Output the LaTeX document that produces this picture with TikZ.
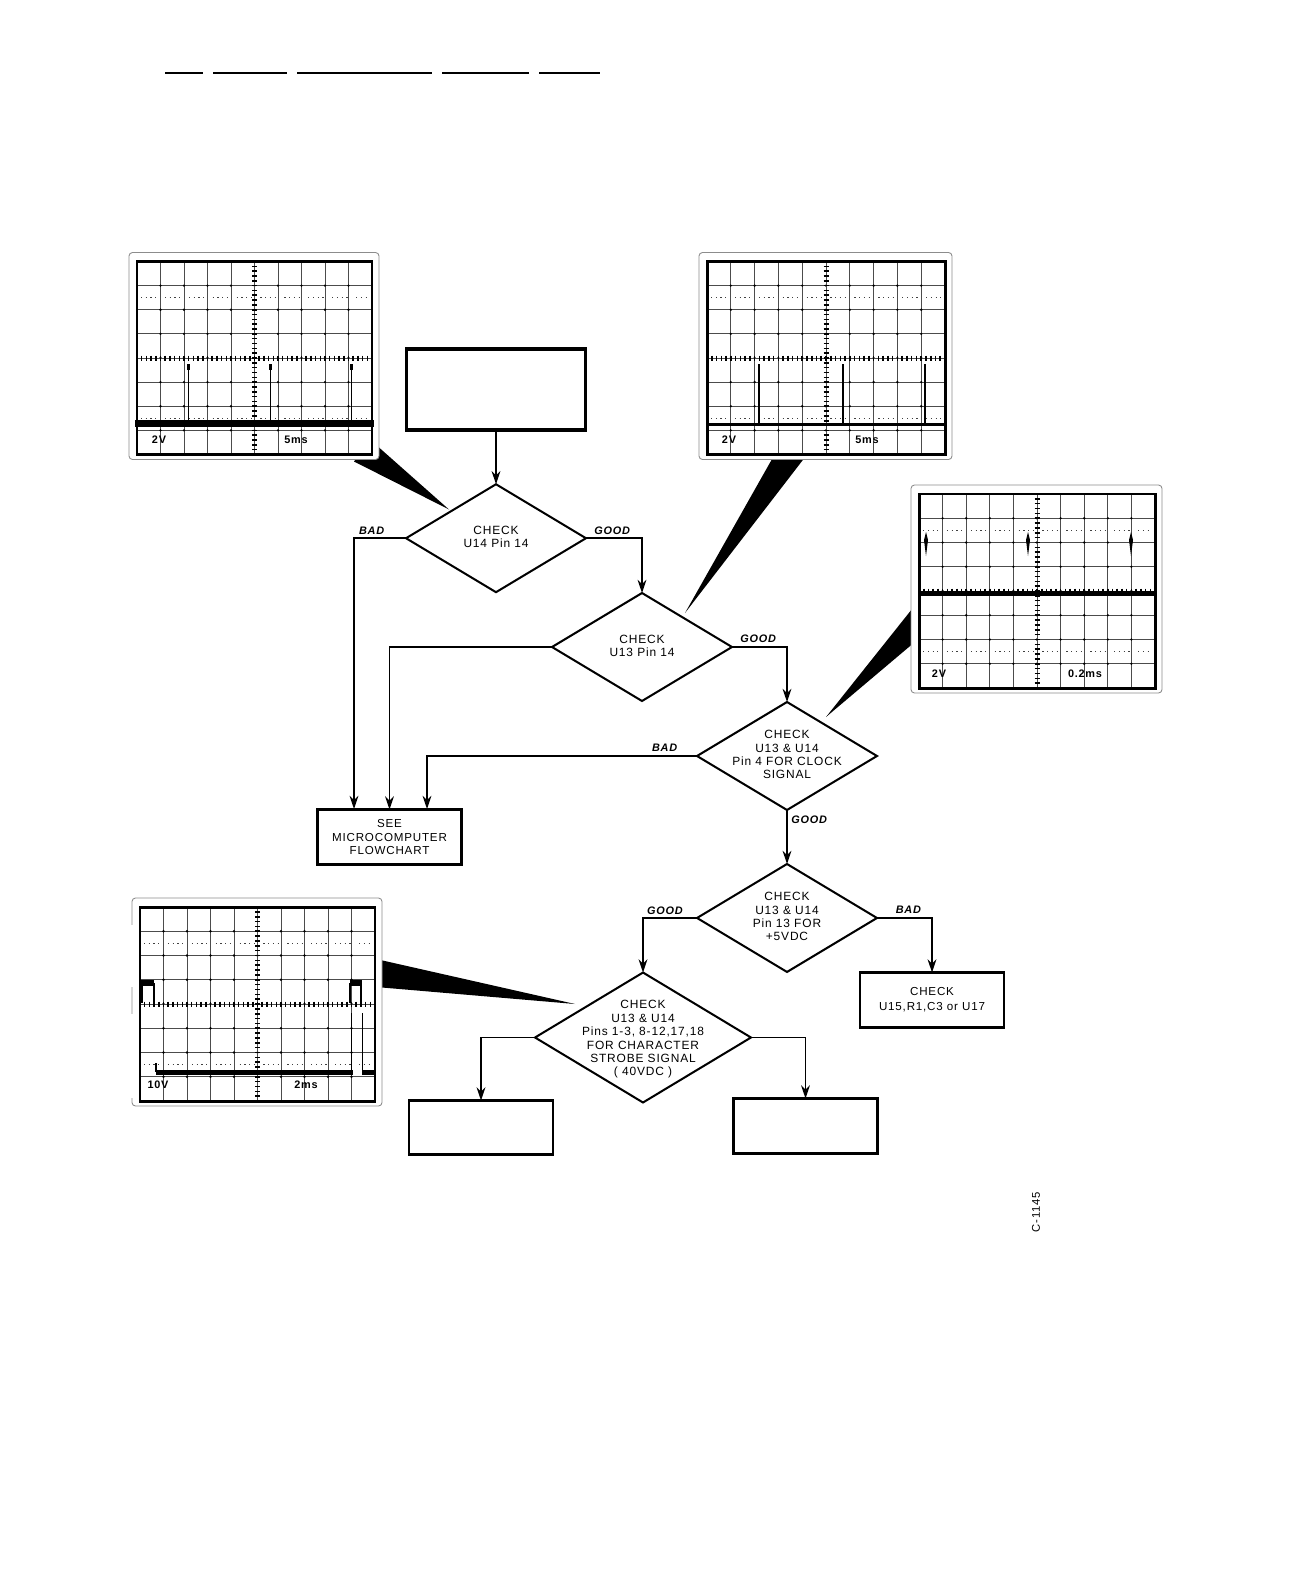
\documentclass[tikz,border=0pt]{standalone}
\usepackage{fontspec}
\setmainfont{Liberation Sans}[LetterSpace=7.0]
\usetikzlibrary{arrows.meta,calc,positioning,shapes.geometric}
\newcommand{\chktext}[1]{\makebox[0pt]{\smash{\raisebox{-1.8pt}{\begin{tabular}[c]{@{}c@{}}#1\end{tabular}}}}}
% screen of one scope photo: name, left, top, right, bottom
\newcommand{\scopeshot}[5]{%
    \pgfmathsetmacro{\colw}{(#4-#2)/10}
    \pgfmathsetmacro{\rowh}{(#5-#3)/8}
    \pgfmathsetmacro{\midx}{(#2+#4)/2}
    \pgfmathsetmacro{\midy}{(#3+#5)/2}
    \node[scopecard, minimum width={(#4-#2+15)*0.02cm}, minimum height={(#5-#3+14)*0.02cm}] (#1card) at (#2-8,#3-9) {};
    \foreach \i in {1,...,9} \draw[gridline] ({#2+\i*\colw},#3) -- ({#2+\i*\colw},#5);
    \foreach \j in {1,...,7} \draw[gridline] (#2,{#3+\j*\rowh}) -- (#4,{#3+\j*\rowh});
    \foreach \i in {1,...,9} \foreach \j in {1,...,7} \fill ({#2+\i*\colw},{#3+\j*\rowh}) circle (1.3);
    \draw[gridline] (#2,\midy) -- (#4,\midy);
    \draw[gridline] (\midx,#3) -- (\midx,#5);
    \foreach \k in {1,...,39} \draw[axistick] (\midx-2.5,{#3+\k*\rowh/5}) -- (\midx+2.5,{#3+\k*\rowh/5});
    \foreach \k in {1,...,49} \draw[axistick] ({#2+\k*\colw/5},\midy-2.5) -- ({#2+\k*\colw/5},\midy+2.5);
    \draw[graticule] (#2+4,{#3+1.5*\rowh}) -- (#4-4,{#3+1.5*\rowh});
    \draw[graticule] (#2+4,{#3+6.5*\rowh}) -- (#4-4,{#3+6.5*\rowh});
    \node[scopescreen, minimum width={(#4-#2)*0.02cm}, minimum height={(#5-#3)*0.02cm}] (#1) at (#2,#3) {};
}

\begin{document}
\begin{tikzpicture}[x=0.02cm, y=-0.02cm, >={Stealth[length=7.5pt,width=5pt]},
    flow/.style={->, line width=0.85pt},
    chk/.style={diamond, draw, line width=1.15pt, aspect=1.667, inner sep=0pt, outer sep=0pt, minimum width=3.6cm, minimum height=2.16cm, font=\fontsize{6.8}{7.6}\selectfont},
    stepbox/.style={draw, line width=1.4pt, inner sep=0pt, outer sep=0pt, minimum width=2.88cm, minimum height=1.1cm, align=center, font=\fontsize{6.6}{7.5}\selectfont},
    flag/.style={inner sep=0pt, font=\fontsize{6.2}{7}\selectfont\bfseries\itshape},
    scopecard/.style={draw=black!45, fill=white, line width=0.5pt, rounded corners=2pt, anchor=north west, inner sep=0pt, outer sep=0pt},
    scopescreen/.style={draw, line width=1.7pt, anchor=north west, inner sep=0pt, outer sep=0pt},
    gridline/.style={black!70, line width=0.45pt},
    axistick/.style={line width=0.9pt},
    graticule/.style={black!75, line width=0.6pt, dash pattern=on 0.7pt off 2pt on 0.7pt off 2pt on 0.7pt off 2pt on 0.7pt off 4.8pt},
    spike/.style={line width=1.1pt},
    scopelabel/.style={inner sep=0pt, font=\fontsize{6.2}{7}\selectfont\bfseries},
    tail/.style={fill=black}]
    \useasboundingbox (0,0) rectangle (1292,1571);

    % Heading rule
    \foreach \a/\b in {165/203, 213/287, 297/432, 442/529, 539/600} \draw[line width=1.4pt] (\a,73) -- (\b,73);

    % Nodes
    \node[stepbox, line width=2pt, minimum width=3.58cm, minimum height=1.63cm] (startbox) at (496,389.5) {};
    \node[chk, below=1.08cm of startbox] (pin14u14) {\chktext{CHECK\\U14 Pin 14}};
    \node[chk] (pin14u13) at (642,647) {\chktext{CHECK\\U13 Pin 14}};
    \node[chk] (clockchk) at (787,756) {\chktext{CHECK\\U13 \& U14\\Pin 4 FOR CLOCK\\SIGNAL}};
    \node[chk, below=1.08cm of clockchk] (pin13chk) {\chktext{CHECK\\U13 \& U14\\Pin 13 FOR\\+5VDC}};
    \node[chk, minimum width=4.32cm, minimum height=2.6cm] (strobechk) at (643,1037.5) {\raisebox{-2.4pt}{\chktext{CHECK\\U13 \& U14\\Pins 1-3, 8-12,17,18\\FOR CHARACTER\\STROBE SIGNAL\\( 40VDC )}}};
    \node[stepbox] (seebox) at (389.5,837) {SEE\\MICROCOMPUTER\\FLOWCHART};
    \node[stepbox] (u15box) at (932,1000) {CHECK\\[1pt]U15,R1,C3 or U17};
    \node[stepbox, minimum height=1.08cm] (leftbox) at (481,1127.5) {};
    \node[stepbox, minimum height=1.1cm] (rightbox) at (805.5,1126) {};
    \coordinate (seeA) at (354,809);
    \coordinate (seeC) at (427,809);

    % Pointers
    \coordinate (tipA) at (449,509.5);
    \coordinate (tipB) at (685,613);
    \coordinate (tipC) at (826,717);
    \coordinate (tipD) at (575,1004);
    \fill[tail] (370,441) -- (379,447.5) -- (tipA) -- (354,461.5) -- cycle;
    \fill[tail] (776,452) -- (809,452) -- (tipB) -- cycle;
    \fill[tail] (916,604) -- (tipC) -- (916,641) -- cycle;
    \fill[tail] (376,959) -- (tipD) -- (376,987) -- cycle;

    % Scope photos
    \scopeshot{scopeA}{137}{261.5}{372}{454.5}
    \draw[line width=4pt] (135,423.5) -- (374,423.5);
    \foreach \s in {188.5,270.5,351.5} {
        \draw[spike] (\s,364) -- (\s,423.5);
        \draw[spike, line width=1.8pt] (\s,364) -- (\s,370);
    }
    \node[scopelabel] (voltA) at (159,439.5) {2V};
    \node[scopelabel] (timeA) at (296,439.5) {5ms};

    \scopeshot{scopeB}{707}{261.5}{945}{454.5}
    \draw[line width=2.2pt] (707,424.5) -- (945,424.5);
    \foreach \s in {759,843,925} {
        \draw[spike] (\s,364) -- (\s,424.5);
        \draw[spike, line width=1.6pt] (\s,364) -- (\s,370);
    }
    \node[scopelabel] (voltB) at (729,439.5) {2V};
    \node[scopelabel] (timeB) at (867,439.5) {5ms};

    \scopeshot{scopeC}{919}{494}{1155}{688}
    \draw[line width=2.4pt] (919,593.5) -- (1155,593.5);
    \foreach \s in {926,1028,1131} \fill (\s,532) -- (\s+2,540) -- (\s,556) -- (\s-2,540) -- cycle;
    \node[scopelabel] (voltC) at (939,673.5) {2V};
    \node[scopelabel] (timeC) at (1085,673.5) {0.2ms};

    \scopeshot{scopeD}{140}{907}{375}{1101}
    \draw[white, line width=1.2pt] (132,925) -- (132,987);
    \draw[white, line width=1.2pt] (132,1014) -- (132,1098);
    \draw[line width=2.6pt] (156,1072.5) -- (353,1072.5);
    \draw[line width=2.6pt] (362,1072.5) -- (375,1072.5);
    \draw[line width=3.6pt] (140,983) -- (154,983);
    \draw[line width=3.6pt] (350,983) -- (362,983);
    \draw[spike, line width=0.6pt] (142,983) -- (142,1003);
    \draw[spike, line width=0.6pt] (154,983) -- (154,1003);
    \draw[spike, line width=0.6pt] (350,983) -- (350,1003);
    \draw[spike, line width=0.6pt] (361,983) -- (361,1003);
    \draw[spike, line width=0.6pt] (156,1063) -- (156,1072);
    \draw[spike, line width=0.3pt] (351,1013) -- (351,1072);
    \draw[spike, line width=0.3pt] (362,1013) -- (362,1072);
    \node[scopelabel] (voltD) at (158,1084.5) {10V};
    \node[scopelabel] (timeD) at (306,1084.5) {2ms};

    % Arrows
    \draw[flow] (startbox) -- (pin14u14);
    \draw[flow] (pin14u14.west) -| (seeA);
    \draw[flow] (pin14u14.east) -| (pin14u13.north);
    \draw[flow] (pin14u13.west) -| (seebox.north);
    \draw[flow] (pin14u13.east) -| (clockchk.north);
    \draw[flow] (clockchk.west) -| (seeC);
    \draw[flow] (clockchk) -- (pin13chk);
    \draw[flow] (pin13chk.east) -| (u15box.north);
    \draw[flow] (pin13chk.west) -| (strobechk.north);
    \draw[flow] (strobechk.west) -| (leftbox.north);
    \draw[flow] (strobechk.east) -| (rightbox.north);

    % Branch labels
    \node[flag, above left=0.07cm and 0.43cm of pin14u14.west] (badA) {BAD};
    \node[flag, above right=0.07cm and 0.16cm of pin14u14.east] (goodA) {GOOD};
    \node[flag, above right=0.09cm and 0.16cm of pin14u13.east] (goodB) {GOOD};
    \node[flag, above left=0.09cm and 0.39cm of clockchk.west] (badB) {BAD};
    \node[flag, below right=0.12cm and 0.08cm of clockchk.south] (goodC) {GOOD};
    \node[flag, above left=0.07cm and 0.28cm of pin13chk.west] (goodD) {GOOD};
    \node[flag, above right=0.09cm and 0.37cm of pin13chk.east] (badC) {BAD};

    \node[rotate=90, inner sep=0pt, font=\fontsize{6.4}{7}\selectfont] (drawingno) at (1036,1212) {C-1145};
\end{tikzpicture}
\end{document}
